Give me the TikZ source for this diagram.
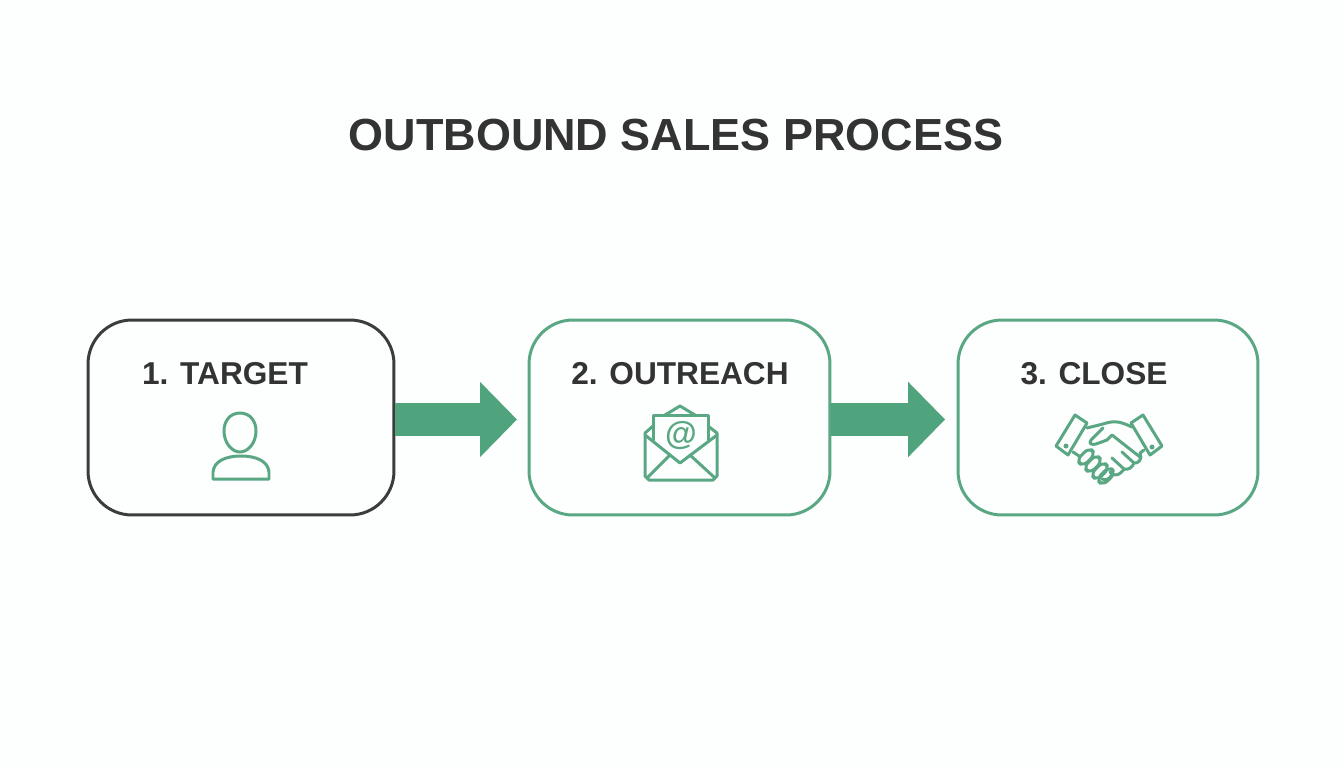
\documentclass[tikz,border=0pt]{standalone}
\usepackage{fontspec}
\setmainfont{Liberation Sans}
\usetikzlibrary{arrows.meta}
\definecolor{dealgreen}{HTML}{4FA47D}
\definecolor{boxgreen}{HTML}{5AA784}
\definecolor{boxdark}{HTML}{3C3B3D}
\definecolor{labeltext}{HTML}{333333}
\definecolor{pagetint}{HTML}{FDFEFE}
\tikzset{
  stagebox/.style={draw=boxgreen,line width=1.7pt,rounded corners=25pt,minimum height=3.9cm,inner sep=0pt},
  stagelabel/.style={text=labeltext,font=\fontsize{18}{22}\selectfont\bfseries,inner sep=0pt},
  stagearrow/.style={dealgreen,line width=18.7pt,-{Triangle[length=21pt,width=41.5pt]}},
  iconline/.style={draw=boxgreen,line width=1.7pt,line join=round,line cap=round}
}
\begin{document}
\begin{tikzpicture}[x=0.02cm,y=-0.02cm]
  \useasboundingbox[fill=pagetint] (0,0) rectangle (1344,768);

  % Title
  \node[text=labeltext,font=\fontsize{25.6}{32}\selectfont\bfseries,inner sep=0pt] (title) at (676,135) {OUTBOUND SALES PROCESS};

  % Boxes
  \node[stagebox,draw=boxdark,minimum width=6.12cm] (target) at (241,417.5) {};
  \node[stagebox,minimum width=6.02cm] (outreach) at (679.5,417.5) {};
  \node[stagebox,minimum width=6cm] (close) at (1108,417.5) {};

  % Box labels
  \node[stagelabel] (targetlabel) at (225,373.5) {1. TARGET};
  \node[stagelabel] (outreachlabel) at (680,373.5) {2. OUTREACH};
  \node[stagelabel] (closelabel) at (1094,373.5) {3. CLOSE};

  % Arrows
  \draw[stagearrow,shorten >=6pt] ([yshift=-0.04cm]target.east) -- ([yshift=-0.04cm]outreach.west);
  \draw[stagearrow,shorten >=6.5pt] ([yshift=-0.04cm]outreach.east) -- ([yshift=-0.04cm]close.west);

  % Person icon
  \draw[iconline] (240,413) .. controls (250,413) and (256,421) .. (256,431)
    .. controls (256,443) and (248,452) .. (240,452)
    .. controls (232,452) and (224,443) .. (224,431)
    .. controls (224,421) and (230,413) .. (240,413) -- cycle;
  \draw[iconline] (213,479) -- (269,479) -- (269,472)
    .. controls (268,461) and (256,456) .. (241,456)
    .. controls (226,456) and (214,461) .. (213,472) -- cycle;

  % Envelope icon
  \draw[iconline] (653,440) -- (653,415) -- (708,415) -- (708,440);
  \draw[iconline] (665,415) -- (680,406) -- (695,415);
  \draw[iconline] (653,426) -- (645,433) -- (645,476) -- (649,480) -- (713,480) -- (717,476) -- (717,433) -- (708,426);
  \draw[iconline] (645,435) -- (680,463) -- (717,435);
  \draw[iconline] (647,478) -- (670,455);
  \draw[iconline] (715,478) -- (690,455);
  \node[text=boxgreen,font=\fontsize{18.5}{20}\selectfont\bfseries,inner sep=0pt] (at) at (681,436) {@};

  % Handshake icon
  \draw[iconline] (1075,415) -- (1087,423) -- (1068,455) -- (1056,446) -- cycle;
  \draw[iconline] (1143,415) -- (1162,446) -- (1150,455) -- (1131,423) -- cycle;
  \fill[boxgreen] (1066,446) circle (2.5);
  \fill[boxgreen] (1152,447) circle (2.5);
  \draw[iconline] (1087,428) -- (1103,424) .. controls (1112,421) and (1118,421) .. (1125,424) -- (1132,427);
  \draw[iconline] (1103,428) -- (1091,440) .. controls (1088,444) and (1092,445) .. (1096,444)
    -- (1107,440) -- (1112,435) -- (1140,457);
  \draw[iconline] (1144,450) -- (1140,453) .. controls (1143,459) and (1138,464) .. (1134,463) -- (1122,452);
  \draw[iconline] (1134,463) .. controls (1132,468) and (1128,470) .. (1124,469) -- (1112,458);
  \draw[iconline] (1124,469) .. controls (1120,475) and (1116,476) .. (1112,474) -- (1110,472);
  \draw[iconline] (1112,474) .. controls (1110,479) and (1106,481) .. (1102,479);
  \draw[iconline] (1073,452) -- (1079,456);
  \foreach \cx/\cy in {1086/457,1093/464,1100/471,1106/476}
    \draw[iconline,rotate around={45:(\cx,\cy)},rounded corners=3.5] (\cx-9,\cy-4.5) rectangle (\cx+9,\cy+4.5);
\end{tikzpicture}
\end{document}
